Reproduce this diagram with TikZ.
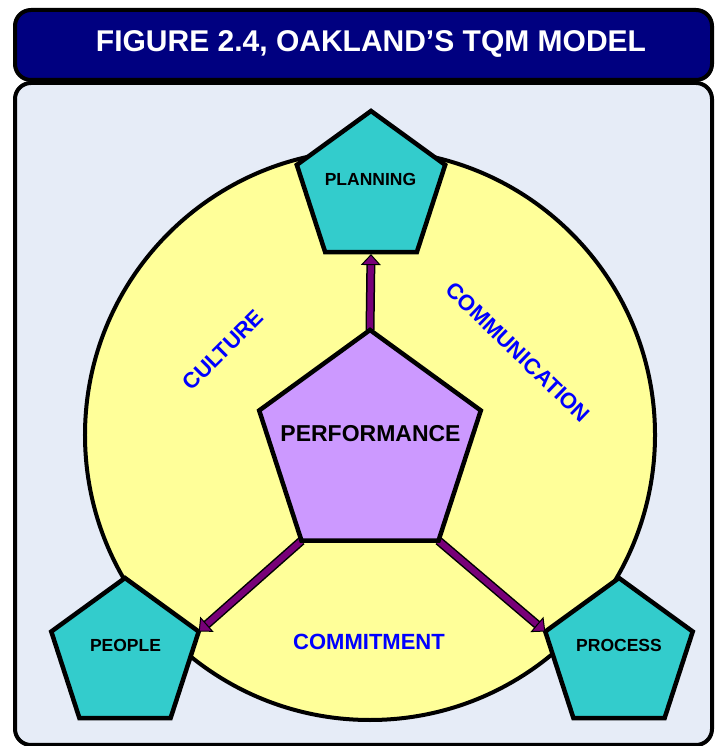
\documentclass[tikz,border=0pt]{standalone}
\usepackage{fontspec}
\setmainfont{Liberation Sans}
\usetikzlibrary{shapes.geometric,arrows.meta,calc}
\definecolor{navyc}{RGB}{0,0,128}
\definecolor{panelc}{RGB}{230,236,247}
\definecolor{ringc}{RGB}{255,255,153}
\definecolor{tealc}{RGB}{51,204,204}
\definecolor{lavc}{RGB}{204,153,255}
\definecolor{bluec}{RGB}{0,0,255}
\definecolor{arrowc}{RGB}{120,0,120}
\tikzset{
  boxstyle/.style={draw=black, line width=4bp, rounded corners=16bp},
  pent/.style={shape=regular polygon, regular polygon sides=5, draw=black, line width=4.5bp, inner sep=0pt, outer sep=0pt},
  lbl/.style={font=\fontsize{22bp}{22bp}\selectfont\bfseries, text=bluec, inner sep=0pt},
  pname/.style={font=\fontsize{17.5bp}{17.5bp}\selectfont\bfseries, text=black, inner sep=0pt},
  shaftout/.style={draw=black, line width=9bp},
  shaftin/.style={draw=arrowc, line width=6bp},
  headtip/.style={draw=black, line width=1bp, -{Triangle[width=20bp,length=11bp,fill=arrowc]}}
}
\begin{document}
\begin{tikzpicture}[x=1bp,y=1bp]
\useasboundingbox (0,0) rectangle (715,746);
% panels
\draw[boxstyle, fill=panelc] (15,1) rectangle (712,663);
\draw[boxstyle, fill=navyc] (15,666) rectangle (712,736);
\node[font=\fontsize{30bp}{30bp}\selectfont\bfseries, text=white, inner sep=0pt] (title) at (371,702.5) {FIGURE 2.4, OAKLAND’S TQM MODEL};
% ring
\node[circle, draw=black, fill=ringc, line width=4bp, minimum size=570bp, inner sep=0pt, outer sep=0pt] (ring) at (370,311) {};
% outer pentagons
\node[pent, fill=tealc, minimum size=156bp] (plan) at (371,557) {};
\node[pent, fill=tealc, minimum size=155bp] (people) at (125,90.5) {};
\node[pent, fill=tealc, minimum size=155bp] (proc) at (619,90.5) {};
% central pentagon guide (invisible)
\node[pent, draw=none, minimum size=233bp] (perfg) at (370,299.5) {};
% arrows
\coordinate (pend) at ($(plan.side 3)+(0,-2)$);
\draw[shaftout, shorten >=10bp] (perfg.corner 1) -- (pend);
\draw[shaftin, shorten >=9bp] (perfg.corner 1) -- (pend);
\draw[headtip] ($(pend)!11bp!(perfg.corner 1)$) -- (pend);
\draw[shaftout, shorten >=10bp] (perfg.corner 3) -- (people.corner 5);
\draw[shaftin, shorten >=9bp] (perfg.corner 3) -- (people.corner 5);
\draw[headtip] ($(people.corner 5)!11bp!(perfg.corner 3)$) -- (people.corner 5);
\draw[shaftout, shorten >=10bp] (perfg.corner 4) -- (proc.corner 2);
\draw[shaftin, shorten >=9bp] (perfg.corner 4) -- (proc.corner 2);
\draw[headtip] ($(proc.corner 2)!11bp!(perfg.corner 4)$) -- (proc.corner 2);
% central pentagon
\node[pent, fill=lavc, minimum size=233bp] (perf) at (370,299.5) {};
% texts
\node[pname] (tplan) at (370.5,566.5) {PLANNING};
\node[pname] (tpeople) at (125.5,100.5) {PEOPLE};
\node[pname] (tproc) at (619,100.5) {PROCESS};
\node[font=\fontsize{23bp}{23bp}\selectfont\bfseries, inner sep=0pt] (tperf) at (370.5,312.5) {PERFORMANCE};
\node[lbl, rotate=45] (culture) at (223,396) {CULTURE};
\node[lbl, rotate=-44] (comm) at (518,394) {COMMUNICATION};
\node[lbl] (commit) at (369,104.5) {COMMITMENT};
\end{tikzpicture}
\end{document}
